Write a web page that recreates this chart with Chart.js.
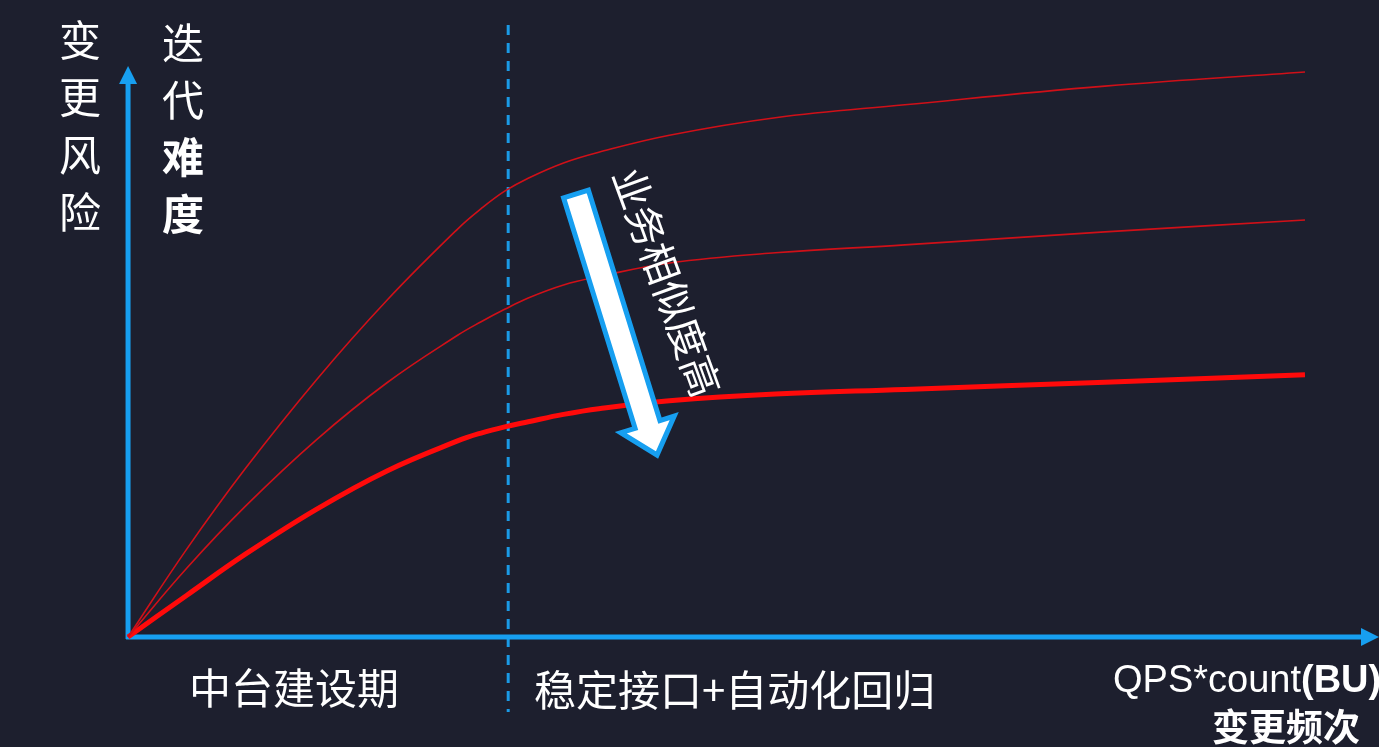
<!DOCTYPE html>
<html>
<head>
<meta charset="utf-8">
<script src="https://cdn.jsdelivr.net/npm/chart.js@4"></script>
<style>
  html, body { margin: 0; padding: 0; background: #1d1f2e; overflow: hidden; }
  canvas { display: block; }
</style>
</head>
<body>
<canvas id="grafico" width="1379" height="747"></canvas>
<script>
// eixo x: QPS*count (0 = origem, 100 = fim das curvas)
const xVals = [0, 5, 10, 16, 22, 28, 30, 32, 34, 37, 40, 46, 55, 66, 83, 100];

// curvas de risco (0..100)
const curvaAlta  = [0, 15.6, 29.9, 45.5, 59.6, 72.2, 75.8, 78.9, 81.2, 83.9, 85.8, 88.8, 91.9, 94.2, 97.5, 100];
const curvaMedia = [0, 12.2, 23.2, 34.9, 45.0, 53.4, 55.8, 58.0, 60.0, 62.3, 63.8, 66.2, 68.0, 69.4, 71.7, 73.8];
const curvaBaixa = [0, 7.4, 14.7, 22.6, 29.4, 34.7, 36.1, 37.2, 38.1, 39.4, 40.4, 41.8, 43.0, 43.8, 45.1, 46.4];

const limiteFase = 32.3;

const labelsY = ['变', '更', '风', '险'];
const labelsY2 = ['迭', '代', '难', '度'];
const faseA = '中台建设期';
const faseB = '稳定接口+自动化回归';
const eixoX1 = 'QPS*count';
const eixoX1b = '(BU)';
const eixoX2 = '变更频次';
const seta = '业务相似度高';

const AZUL = '#179ff0';
const CJK = '"Noto Sans CJK SC", "Noto Sans", sans-serif';
const LAT = '"Liberation Sans", Arial, sans-serif';

function pontos(arr) {
    return xVals.map((x, i) => ({ x: x, y: arr[i] }));
}

const overlay = {
    id: 'overlay',
    beforeDraw(chart) {
        const ctx = chart.ctx;
        ctx.save();
        ctx.fillStyle = '#1d1f2e';
        ctx.fillRect(0, 0, chart.width, chart.height);
        ctx.restore();
    },
    beforeDatasetsDraw(chart) {
        const ctx = chart.ctx;
        const sx = chart.scales.x, sy = chart.scales.y;
        const ox = sx.getPixelForValue(0), oy = sy.getPixelForValue(0);

        ctx.save();
        // linha tracejada
        const dx = sx.getPixelForValue(limiteFase);
        ctx.strokeStyle = '#1a9ae6';
        ctx.lineWidth = 3;
        ctx.setLineDash([10, 8]);
        ctx.beginPath();
        ctx.moveTo(dx, 25);
        ctx.lineTo(dx, 712);
        ctx.stroke();
        ctx.setLineDash([]);

        // eixos
        ctx.strokeStyle = AZUL;
        ctx.fillStyle = AZUL;
        ctx.lineWidth = 5;
        ctx.beginPath();
        ctx.moveTo(ox, oy + 2);
        ctx.lineTo(ox, 80);
        ctx.moveTo(ox - 2, oy);
        ctx.lineTo(1364, oy);
        ctx.stroke();

        ctx.beginPath();
        ctx.moveTo(ox, 66);
        ctx.lineTo(ox + 9, 84);
        ctx.lineTo(ox - 9, 84);
        ctx.closePath();
        ctx.fill();

        ctx.beginPath();
        ctx.moveTo(1379, oy);
        ctx.lineTo(1361, oy - 9);
        ctx.lineTo(1361, oy + 9);
        ctx.closePath();
        ctx.fill();
        ctx.restore();
    },
    afterDatasetsDraw(chart) {
        const ctx = chart.ctx;
        ctx.save();
        ctx.fillStyle = '#ffffff';
        ctx.textAlign = 'center';
        ctx.textBaseline = 'middle';

        // rotulos verticais
        ctx.font = '42px ' + CJK;
        labelsY.forEach((c, i) => ctx.fillText(c, 80, 40 + i * 57.5));
        labelsY2.forEach((c, i) => {
            ctx.font = (i >= 2 ? 'bold ' : '') + '42px ' + CJK;
            ctx.fillText(c, 183, 43 + i * 57);
        });

        // fases
        ctx.font = '42px ' + CJK;
        ctx.textAlign = 'left';
        ctx.fillText(faseA, 189, 688);
        ctx.fillText(faseB, 534, 690);

        ctx.font = '38px ' + LAT;
        ctx.fillText(eixoX1, 1113, 682);
        const w1 = ctx.measureText(eixoX1).width;
        ctx.font = 'bold 38px ' + LAT;
        ctx.fillText(eixoX1b, 1113 + w1, 682);
        ctx.font = 'bold 37px ' + CJK;
        ctx.fillText(eixoX2, 1212, 727);

        // seta grande
        const tx = 576, ty = 194, px = 657, py = 455;
        const ang = Math.atan2(py - ty, px - tx);
        const len = Math.hypot(px - tx, py - ty);
        ctx.translate(tx, ty);
        ctx.rotate(ang);
        const hw = 13, headW = 28, headL = 32;
        ctx.beginPath();
        ctx.moveTo(0, -hw);
        ctx.lineTo(len - headL, -hw);
        ctx.lineTo(len - headL, -headW);
        ctx.lineTo(len, 0);
        ctx.lineTo(len - headL, headW);
        ctx.lineTo(len - headL, hw);
        ctx.lineTo(0, hw);
        ctx.closePath();
        ctx.fillStyle = '#ffffff';
        ctx.fill();
        ctx.strokeStyle = AZUL;
        ctx.lineWidth = 5;
        ctx.lineJoin = 'miter';
        ctx.stroke();
        ctx.setTransform(1, 0, 0, 1, 0, 0);

        // texto rotacionado
        ctx.translate(667, 282);
        ctx.rotate(70 * Math.PI / 180);
        ctx.fillStyle = '#ffffff';
        ctx.textAlign = 'center';
        ctx.font = '40px ' + CJK;
        ctx.fillText(seta, 0, 0);
        ctx.restore();
    }
};

const ctx = document.getElementById('grafico').getContext('2d');

new Chart(ctx, {
    type: 'line',
    data: {
        datasets: [
            { data: pontos(curvaAlta), borderColor: '#d01018', borderWidth: 1.6 },
            { data: pontos(curvaMedia), borderColor: '#d01018', borderWidth: 1.6 },
            { data: pontos(curvaBaixa), borderColor: '#ff0a0a', borderWidth: 5 }
        ]
    },
    options: {
        responsive: false,
        animation: false,
        devicePixelRatio: 1,
        layout: { padding: 0 },
        elements: {
            point: { radius: 0 },
            line: { tension: 0.4, borderCapStyle: 'butt' }
        },
        plugins: {
            legend: { display: false },
            tooltip: { enabled: false },
            title: { display: false }
        },
        scales: {
            x: { type: 'linear', display: false, min: -10.88, max: 106.29 },
            y: { type: 'linear', display: false, min: -19.47, max: 112.74 }
        }
    },
    plugins: [overlay]
});
</script>
</body>
</html>
